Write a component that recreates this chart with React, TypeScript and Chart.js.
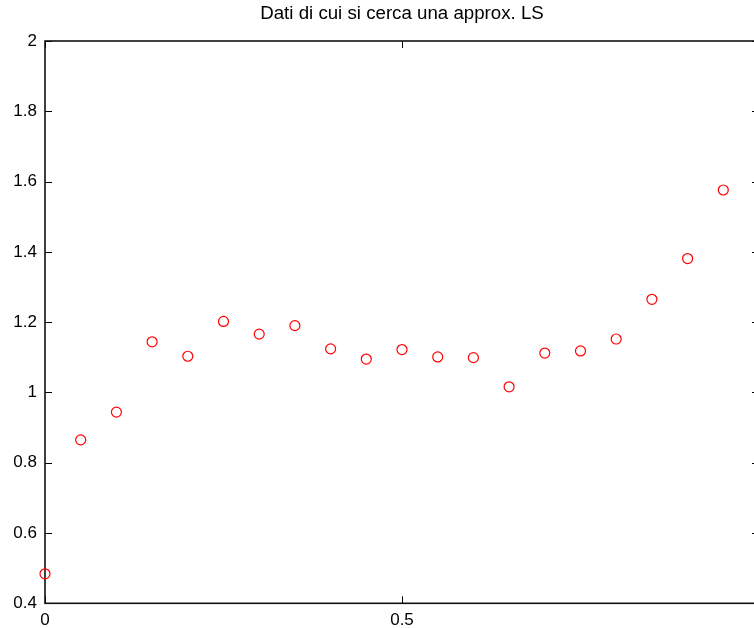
import React, { useEffect, useRef } from "react";
import { Chart, registerables } from "chart.js";

Chart.register(...registerables);

const chartTitle = "Dati di cui si cerca una approx. LS";
const xValues = [0, 0.05, 0.1, 0.15, 0.2, 0.25, 0.3, 0.35, 0.4, 0.45, 0.5, 0.55, 0.6, 0.65, 0.7, 0.75, 0.8, 0.85, 0.9, 0.95];
const yValues = [0.484, 0.865, 0.944, 1.144, 1.103, 1.202, 1.166, 1.19, 1.124, 1.095, 1.122, 1.101, 1.099, 1.016, 1.112, 1.118, 1.152, 1.265, 1.381, 1.576];
const xTicks = [0, 0.5, 1];
const yTicks = [0.4, 0.6, 0.8, 1, 1.2, 1.4, 1.6, 1.8, 2];

const FONT = "'Liberation Sans', Arial, Helvetica, sans-serif";

const boxPlugin = {
  id: "matlabBox",
  beforeDatasetsDraw(chart: any) {
    const { ctx, chartArea: a, scales } = chart;
    const x = scales.x;
    const y = scales.y;
    ctx.save();
    ctx.strokeStyle = "#000";
    ctx.lineWidth = 1;
    const tl = 7;
    ctx.beginPath();
    for (const v of xTicks) {
      const px = Math.round(x.getPixelForValue(v)) + 0.5;
      ctx.moveTo(px, a.bottom);
      ctx.lineTo(px, a.bottom - tl);
      ctx.moveTo(px, a.top);
      ctx.lineTo(px, a.top + tl);
    }
    for (const v of yTicks) {
      const py = Math.round(y.getPixelForValue(v)) + 0.5;
      ctx.moveTo(a.left, py);
      ctx.lineTo(a.left + tl, py);
      ctx.moveTo(a.right, py);
      ctx.lineTo(a.right - tl, py);
    }
    ctx.stroke();
    ctx.lineWidth = 1.6;
    ctx.strokeStyle = "#111";
    ctx.strokeRect(a.left, a.top, a.right - a.left, a.bottom - a.top);
    ctx.restore();
  },
};

export default function App() {
  const ref = useRef<HTMLCanvasElement | null>(null);
  useEffect(() => {
    if (!ref.current) return;
    const chart = new Chart(ref.current, {
      type: "scatter",
      data: {
        datasets: [
          {
            data: xValues.map((x, i) => ({ x, y: yValues[i] })),
            pointStyle: "circle",
            pointRadius: 5,
            pointBorderWidth: 1.2,
            borderColor: "#ff0000",
            backgroundColor: "rgba(0,0,0,0)",
            pointHoverRadius: 5,
            clip: false as any,
          },
        ],
      },
      options: {
        responsive: false,
        animation: false,
        devicePixelRatio: 1,
        layout: { padding: { left: 0, right: 31, top: 0, bottom: 0 } },
        plugins: {
          legend: { display: false },
          tooltip: { enabled: false },
          title: {
            display: true,
            fullSize: false,
            text: chartTitle,
            color: "#000",
            font: { family: FONT, size: 18.7, weight: "normal" as any, lineHeight: 1.2 },
            padding: { top: 3, bottom: 15.56 },
          },
        },
        scales: {
          x: {
            type: "linear",
            position: "bottom",
            min: 0,
            max: 1,
            grid: { display: false, drawTicks: false },
            border: { display: false },
            ticks: {
              color: "#000",
              font: { family: FONT, size: 17 },
              padding: 7,
              maxRotation: 0,
              callback: (v: any) => String(Math.round(Number(v) * 10) / 10),
            },
            afterBuildTicks: (s: any) => {
              s.ticks = xTicks.map((value) => ({ value }));
            },
            afterFit: (s: any) => {
              s.height = 24.7;
            },
          },
          y: {
            type: "linear",
            position: "left",
            min: 0.4,
            max: 2,
            grid: { display: false, drawTicks: false },
            border: { display: false },
            ticks: {
              color: "#000",
              font: { family: FONT, size: 17 },
              padding: 8,
              callback: (v: any) => String(Math.round(Number(v) * 10) / 10),
            },
            afterBuildTicks: (s: any) => {
              s.ticks = yTicks.map((value) => ({ value }));
            },
            afterFit: (s: any) => {
              s.width = 45;
            },
          },
        },
      },
      plugins: [boxPlugin],
    });
    return () => chart.destroy();
  }, []);

  return (
    <div
      style={{
        position: "absolute",
        left: 0,
        top: 0,
        width: 754,
        height: 628,
        overflow: "hidden",
        background: "#fff",
      }}
    >
      <canvas ref={ref} width={790} height={628} style={{ display: "block" }} />
    </div>
  );
}
